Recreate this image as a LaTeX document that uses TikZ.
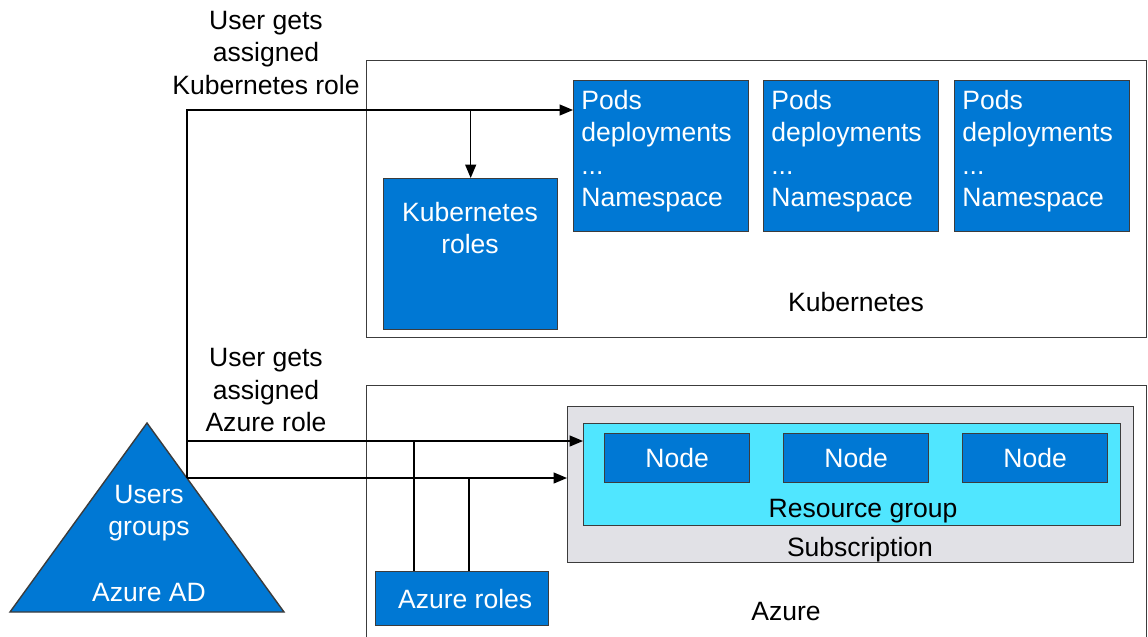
\documentclass[tikz,border=0pt]{standalone}
\usepackage{fontspec}
\setmainfont{Liberation Sans}
\usepackage{xcolor}
\usepackage{tikz}
\usetikzlibrary{arrows.meta}

\definecolor{azblue}{HTML}{0078D4}
\definecolor{azcyan}{HTML}{50E6FF}
\definecolor{subgray}{HTML}{E1E1E6}
\definecolor{edge}{HTML}{3C3C3C}

\tikzset{
  bluebox/.style={draw=edge, fill=azblue, line width=0.8pt, text=white, anchor=north west, inner sep=0pt},
  frame/.style={draw=edge, line width=0.8pt, anchor=north west, inner sep=0pt},
  txt/.style={align=center, inner sep=0pt},
  conn/.style={draw=black, line width=0.8pt},
  arr/.style={conn, -{Triangle[length=0.27cm, width=0.22cm]}}
}

\begin{document}
\begin{tikzpicture}[x=0.02cm, y=-0.02cm, font=\fontsize{15.1}{18.5}\selectfont]
            \useasboundingbox (0,0) rectangle (1148,636);
            \clip (0,0) rectangle (1148,636);

            % kubernetes side
            \node[frame, minimum width=15.6cm, minimum height=5.54cm] (kube) at (366,60) {};
            \node[bluebox, minimum width=3.5cm, minimum height=3.02cm] (pod1) at (573,80) {};
            \node[bluebox, minimum width=3.5cm, minimum height=3.02cm] (pod2) at (763,80) {};
            \node[bluebox, minimum width=3.5cm, minimum height=3.02cm] (pod3) at (954,80) {};
            \node[txt, align=left, anchor=west, text=white] at ([xshift=0.16cm, yshift=0.1cm]pod1.west) {Pods\\deployments\\...\\Namespace};
            \node[txt, align=left, anchor=west, text=white] at ([xshift=0.16cm, yshift=0.1cm]pod2.west) {Pods\\deployments\\...\\Namespace};
            \node[txt, align=left, anchor=west, text=white] at ([xshift=0.16cm, yshift=0.1cm]pod3.west) {Pods\\deployments\\...\\Namespace};
            \node[bluebox, minimum width=3.48cm, minimum height=3.02cm] (kroles) at (383,178) {};
            \node[txt, text=white] (krolestxt) at (470,228) {Kubernetes\\roles};
            \node[txt] (kubetxt) at (856,302) {Kubernetes};

            % azure side
            \node[frame, minimum width=15.6cm, minimum height=5.6cm] (azure) at (366,385) {};
            \node[frame, fill=subgray, minimum width=11.32cm, minimum height=3.12cm] (sub) at (567,406) {};
            \node[frame, fill=azcyan, minimum width=10.74cm, minimum height=2.04cm] (rg) at (583,423) {};
            \node[bluebox, minimum width=2.9cm, minimum height=0.98cm] (node1) at (604,433) {};
            \node[bluebox, minimum width=2.9cm, minimum height=0.98cm] (node2) at (783,433) {};
            \node[bluebox, minimum width=2.9cm, minimum height=0.98cm] (node3) at (962,433) {};
            \node[txt, text=white] at (node1.center) {Node};
            \node[txt, text=white] at (node2.center) {Node};
            \node[txt, text=white] at (node3.center) {Node};
            \node[txt] (rgtxt) at (863,511) {Resource group};
            \node[txt] (subtxt) at (860,550) {Subscription};
            \node[bluebox, minimum width=3.46cm, minimum height=1.08cm] (azroles) at (375,571) {};
            \node[txt, text=white] at ([xshift=0.06cm]azroles.center) {Azure roles};
            \node[txt] (azuretxt) at (786,611) {Azure};

            % azure ad
            \filldraw[draw=edge, fill=azblue, line width=0.8pt] (147,423) -- (284,612) -- (10,612) -- cycle;
            \node[txt, text=white] (users) at (149,513) {Users\\groups};
            \node[txt, text=white] (aad) at (149,592) {Azure AD};

            \node[txt] (klabel) at (266,53) {User gets\\assigned\\Kubernetes role};
            \node[txt] (alabel) at (266,390) {User gets\\assigned\\Azure role};

            % connectors
            \coordinate (adtap) at (187,478);
            \coordinate (turn) at (187,110);
            \coordinate (azturn) at (187,441);
            \coordinate (tapa) at (414,441);
            \coordinate (tapb) at (469,478);
            \draw[arr] (adtap) -- (turn) -- (turn -| pod1.west);
            \draw[arr] (kroles.north |- turn) -- (kroles.north);
            \draw[arr] (azturn) -- (azturn -| rg.west);
            \draw[arr] (adtap) -- (adtap -| sub.west);
            \draw[conn] (tapa) -- (tapa |- azroles.north);
            \draw[conn] (tapb) -- (tapb |- azroles.north);
         \end{tikzpicture}
\end{document}
